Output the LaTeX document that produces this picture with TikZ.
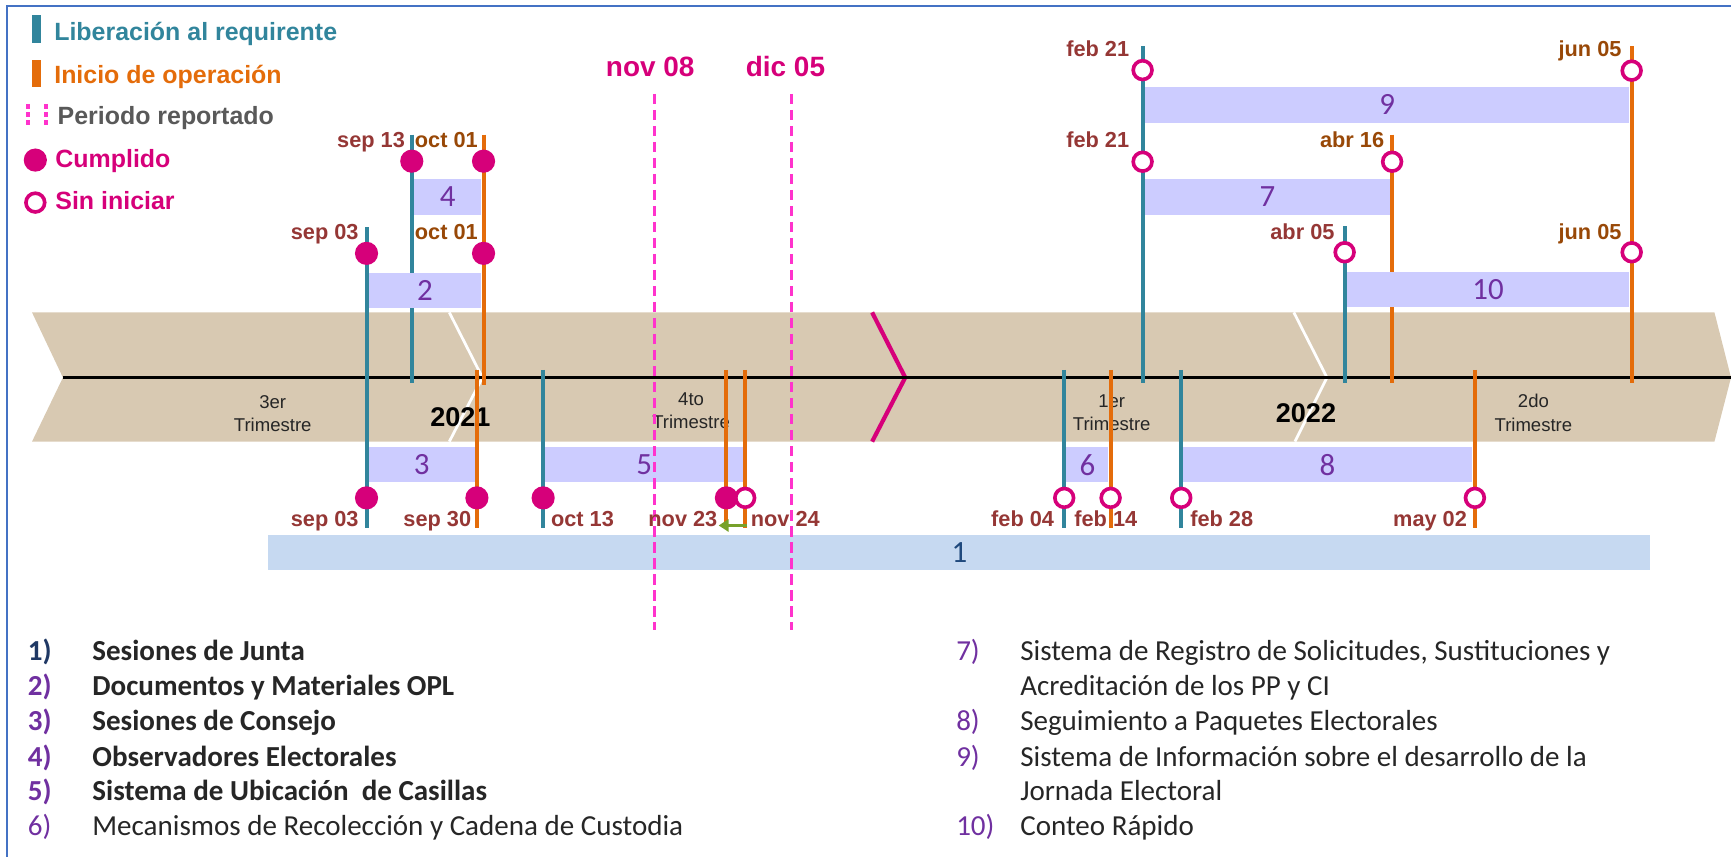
\documentclass[tikz,border=0pt]{standalone}
\usepackage{fontspec}
\setmainfont{Liberation Sans}
\newfontfamily\calib{Carlito}
\usetikzlibrary{arrows.meta}

\definecolor{libcol}{RGB}{49,133,156}
\definecolor{inicol}{RGB}{228,108,10}
\definecolor{dotcol}{RGB}{214,0,122}
\definecolor{percol}{RGB}{255,51,204}
\definecolor{datecol}{RGB}{149,55,53}
\definecolor{brncol}{RGB}{152,72,7}
\definecolor{barcol}{RGB}{204,204,255}
\definecolor{onecol}{RGB}{198,217,241}
\definecolor{numcol}{RGB}{112,48,160}
\definecolor{navycol}{RGB}{31,73,125}
\definecolor{listnavy}{RGB}{31,56,100}
\definecolor{bandcol}{RGB}{216,201,178}
\definecolor{grncol}{RGB}{119,161,42}
\definecolor{graycol}{RGB}{89,89,89}
\definecolor{txtcol}{RGB}{38,38,38}
\definecolor{framecol}{RGB}{68,114,196}

\newcommand{\legfnt}{\bfseries\fontsize{22.6}{24}\selectfont}
\newcommand{\datefnt}{\bfseries\fontsize{19.7}{21}\selectfont}
\newcommand{\perfnt}{\bfseries\fontsize{25.3}{27}\selectfont}
\newcommand{\yearfnt}{\bfseries\fontsize{24.5}{26}\selectfont}
\newcommand{\qtrfnt}{\fontsize{16.8}{21}\selectfont}
\newcommand{\numfnt}{\calib\fontsize{28}{30}\selectfont}
\newcommand{\listfnt}{\calib\fontsize{26.3}{32}\selectfont}

\tikzset{
  lib/.style={draw=libcol, line width=3.6pt},
  ini/.style={draw=inicol, line width=3.6pt},
  done/.style={circle, fill=dotcol, inner sep=0pt, minimum size=21pt},
  todo/.style={circle, draw=dotcol, fill=white, line width=3.3pt, inner sep=0pt, minimum size=17pt},
  barbox/.style={fill=barcol, inner sep=0pt, text=numcol, font=\numfnt},
  datered/.style={text=datecol, font=\datefnt, inner sep=0pt},
  datebrn/.style={text=brncol, font=\datefnt, inner sep=0pt},
  legtxt/.style={anchor=base west, font=\legfnt, inner sep=0pt},
  qtr/.style={align=center, font=\qtrfnt, text=black!85, inner sep=0pt},
  period/.style={draw=percol, line width=3pt, dash pattern=on 9.5pt off 5pt},
  litem/.style={anchor=base west, font=\listfnt, inner sep=0pt, text=txtcol},
}

\begin{document}
\begin{tikzpicture}[x=1pt, y=-1pt]
    \useasboundingbox (0,0) rectangle (1568,776);
    \draw[framecol, line width=1.8pt] (6,776) -- (6,5.7) -- (1568,5.7);

    % legend
    \fill[libcol] (28.7,13.6) rectangle (36.8,39);
    \node[legtxt, text=libcol] (lgLib) at (49,37) {Liberación al requirente};
    \fill[inicol] (29,54) rectangle (37.5,79);
    \node[legtxt, text=inicol] (lgIni) at (49,75.5) {Inicio de operación};
    \draw[percol, line width=3.6pt, dash pattern=on 4.5pt off 3pt] (25,94) -- (25,116);
    \draw[percol, line width=3.6pt, dash pattern=on 4.5pt off 3pt] (42,94) -- (42,116);
    \node[legtxt, text=graycol] (lgPer) at (52,113) {Periodo reportado};
    \node[done] (lgDone) at (32,145) {};
    \node[legtxt, text=dotcol] (lgCum) at (50,152) {Cumplido};
    \node[todo] (lgTodo) at (32,183.5) {};
    \node[legtxt, text=dotcol] (lgSin) at (50,190) {Sin iniciar};

    % time band
    \fill[bandcol] (29,283) -- (1553,283) -- (1568,342) -- (1553,400) -- (29,400) -- (57,342) -- cycle;
    \draw[white, line width=2.5pt] (407,283) -- (437,342) -- (407,400);
    \draw[white, line width=2.5pt] (1172,283) -- (1202,342) -- (1173,400);
    \draw[dotcol, line width=3.8pt] (790,283) -- (820,342) -- (790,400);
    \draw[line width=2.2pt] (57,342) -- (1568,342);
    \node[qtr] (q3) at (247,375) {3er\\Trimestre};
    \node[qtr] (q4) at (626,372) {4to\\Trimestre};
    \node[qtr] (q1) at (1007,374) {1er\\Trimestre};
    \node[qtr] (q2) at (1389,374) {2do\\Trimestre};
    \node[font=\yearfnt, anchor=base, inner sep=0pt] (y21) at (417,386.5) {2021};
    \node[font=\yearfnt, anchor=base, inner sep=0pt] (y22) at (1183,383) {2022};

    % milestones
    \foreach \n/\x/\a/\b in {s03/332/206/478, s13/373/122/347, o13/492/335/478,
        f21/1035/42/347, a05/1218/205/347, f04/964/335/478, f28/1070/335/478,
        o01/438/122/349, s30/432/335/478, n23/658/335/478, n24/675/335/478,
        j05/1478/42/347, a16/1261/122/347, f14/1006/335/478, m02/1336/335/478} {
        \coordinate (\n-t) at (\x,\a);
        \coordinate (\n-b) at (\x,\b);
    }
    \draw[lib] (s13-t) -- (s13-b);
    \draw[ini] (a16-t) -- (a16-b);

    % activities
    \node[barbox, minimum width=61pt, minimum height=33pt] (b4) at (405.5,178.5) {4};
    \node[barbox, minimum width=102pt, minimum height=32pt] (b2) at (385,263) {2};
    \node[barbox, minimum width=96pt, minimum height=32pt] (b3) at (382,421) {3};
    \node[barbox, minimum width=179pt, minimum height=32pt] (b5) at (583.5,421) {5};
    \node[barbox, minimum width=38pt, minimum height=32pt] (b6) at (985,421) {6};
    \node[barbox, minimum width=261pt, minimum height=32pt] (b8) at (1202.5,421) {8};
    \node[barbox, minimum width=439pt, minimum height=32pt] (b9) at (1256.5,95) {9};
    \node[barbox, minimum width=222pt, minimum height=33pt] (b7) at (1148,178.5) {7};
    \node[barbox, minimum width=256pt, minimum height=32pt] (b10) at (1348,262) {10};
    \node[barbox, fill=onecol, text=navycol, minimum width=1252pt, minimum height=31pt] (b1) at (869,500.5) {1};

    \foreach \n in {s03,o13,f21,a05,f04,f28} \draw[lib] (\n-t) -- (\n-b);
    \foreach \n in {o01,s30,n23,n24,j05,f14,m02} \draw[ini] (\n-t) -- (\n-b);

    % reported period
    \node[text=dotcol, font=\perfnt, anchor=base, inner sep=0pt] (pNov) at (589,69) {nov 08};
    \node[text=dotcol, font=\perfnt, anchor=base, inner sep=0pt] (pDic) at (711.5,69) {dic 05};
    \coordinate (pNov-t) at (593,85); \coordinate (pNov-b) at (593,571);
    \coordinate (pDic-t) at (717,85); \coordinate (pDic-b) at (717,571);
    \draw[period] (pNov-t) -- (pNov-b);
    \draw[period] (pDic-t) -- (pDic-b);

    % status
    \foreach \x/\y [count=\i] in {332/229.5, 373/146, 438/146, 438/229.5,
        332/451, 432/451, 492/451, 658/451}
        \node[done] (ok\i) at (\x,\y) {};
    \foreach \x/\y [count=\i] in {675/451, 1035/63.5, 1035/146.5, 1478/64,
        1261/146.5, 1218/228.5, 1478/228.5, 964/451, 1006/451, 1070/451, 1336/451}
        \node[todo] (st\i) at (\x,\y) {};

    \coordinate (arS) at (677,476); \coordinate (arE) at (651,476);
    \draw[grncol, line width=3.4pt, -{Triangle[length=9pt,width=11pt]}] (arS) -- (arE);

    % dates
    \node[datered, anchor=base east] (dS13) at (367,134) {sep 13};
    \node[datebrn, anchor=base east] (dO01a) at (433,134) {oct 01};
    \node[datered, anchor=base east] (dS03a) at (325,217) {sep 03};
    \node[datebrn, anchor=base east] (dO01b) at (433,217) {oct 01};
    \node[datered, anchor=base east] (dF21a) at (1023,51) {feb 21};
    \node[datered, anchor=base east] (dF21b) at (1023,134) {feb 21};
    \node[datebrn, anchor=base east] (dJ05a) at (1469,51) {jun 05};
    \node[datebrn, anchor=base east] (dA16) at (1254,134) {abr 16};
    \node[datered, anchor=base east] (dA05) at (1209,217) {abr 05};
    \node[datebrn, anchor=base east] (dJ05b) at (1469,217) {jun 05};

    \node[datered, anchor=base east] (dS03b) at (325,477) {sep 03};
    \node[datered, anchor=base east] (dS30) at (427,477) {sep 30};
    \node[datered, anchor=base west] (dO13) at (499,477) {oct 13};
    \node[datered, anchor=base east] (dN23) at (650,477) {nov 23};
    \node[datered, anchor=base west] (dN24) at (680,477) {nov 24};
    \node[datered, anchor=base east] (dF04) at (955,477) {feb 04};
    \node[datered, anchor=base west] (dF14) at (973,477) {feb 14};
    \node[datered, anchor=base west] (dF28) at (1078,477) {feb 28};
    \node[datered, anchor=base east] (dM02) at (1329,477) {may 02};

    % list
    \node[litem, text=listnavy, font=\listfnt\bfseries] (n1) at (25,598.5) {1)};
    \node[litem, font=\listfnt\bfseries] (t1) at (83.5,598.5) {Sesiones de Junta};
    \node[litem, text=numcol, font=\listfnt\bfseries] (n2) at (25,630) {2)};
    \node[litem, font=\listfnt\bfseries] (t2) at (83.5,630) {Documentos y Materiales OPL};
    \node[litem, text=numcol, font=\listfnt\bfseries] (n3) at (25,662) {3)};
    \node[litem, font=\listfnt\bfseries] (t3) at (83.5,662) {Sesiones de Consejo};
    \node[litem, text=numcol, font=\listfnt\bfseries] (n4) at (25,694) {4)};
    \node[litem, font=\listfnt\bfseries] (t4) at (83.5,694) {Observadores Electorales};
    \node[litem, text=numcol, font=\listfnt\bfseries] (n5) at (25,725.5) {5)};
    \node[litem, font=\listfnt\bfseries] (t5) at (83.5,725.5) {Sistema de Ubicación\ \ de Casillas};
    \node[litem, text=numcol] (n6) at (25,757) {6)};
    \node[litem] (t6) at (83.5,757) {Mecanismos de Recolección y Cadena de Custodia};

    \node[litem, text=numcol] (n7) at (866,598.5) {7)};
    \node[litem] (t7) at (924,598.5) {Sistema de Registro de Solicitudes, Sustituciones y};
    \node[litem] (t7b) at (924,630) {Acreditación de los PP y CI};
    \node[litem, text=numcol] (n8) at (866,662) {8)};
    \node[litem] (t8) at (924,662) {Seguimiento a Paquetes Electorales};
    \node[litem, text=numcol] (n9) at (866,694) {9)};
    \node[litem] (t9) at (924,694) {Sistema de Información sobre el desarrollo de la};
    \node[litem] (t9b) at (924,725.5) {Jornada Electoral};
    \node[litem, text=numcol] (n10) at (866,757) {10)};
    \node[litem] (t10) at (924,757) {Conteo Rápido};
\end{tikzpicture}
\end{document}
